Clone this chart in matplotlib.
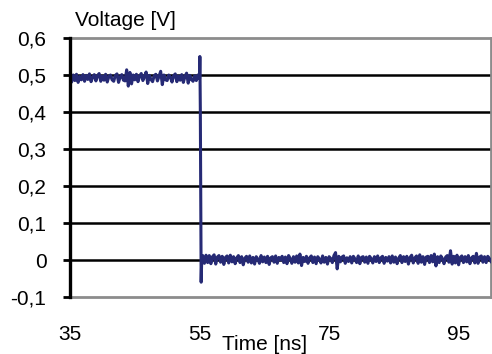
import numpy as np
import matplotlib
matplotlib.use("Agg")
import matplotlib.pyplot as plt

plt.rcParams['font.family'] = ['Liberation Sans', 'DejaVu Sans']

# Voltage before the edge (mV), 35 .. 55 ns
v_high_mv = [493, 481, 500, 485, 502, 480, 496, 487, 501, 483,
             499, 488, 503, 482, 494, 501, 484, 498, 504, 483,
             497, 486, 502, 481, 496, 500, 487, 483, 499, 503,
             480, 495, 501, 486, 484, 514, 470, 507, 476, 500,
             487, 502, 482, 497, 504, 485, 496, 508, 477, 499,
             488, 482, 498, 502, 484, 497, 510, 474, 500, 487,
             485, 500, 494, 481, 498, 503, 482, 497, 486, 501,
             480, 496, 505, 478, 499, 488, 483, 498, 485, 500, 490]
# Edge region
t_edge = [55.05, 55.12, 55.25, 55.35]
v_edge = [0.55, 0.41, -0.06, 0.01]
# Voltage after the edge (mV), 55.5 .. 100 ns
v_low_mv = [12, -9, 13, -7, 12, -10, 9, 14, -11, 8,
            12, -6, 10, -12, 7, 11, -8, 13, -5, 9,
            -10, 6, 12, -7, 9, -13, 5, 10, -6, 11,
            -8, 7, -11, 9, 3, -9, 12, -5, 8, -7,
            10, -12, 6, 9, -6, 11, -9, 7, 0, 10,
            -7, 8, -10, 12, 4, -9, 9, -6, 11, -8,
            16, -15, 7, -4, 10, -9, 6, 11, -7, 8,
            -10, 9, 3, -8, 11, -6, 7, -11, 9, 4,
            -7, 12, 20, -24, 10, -5, 8, 11, -9, 6,
            -4, 9, -8, 10, 3, -7, 11, -10, 7, 9,
            -6, 8, -9, 10, 4, -8, 9, -4, 11, -7,
            6, 10, -9, 7, -3, 9, -8, 11, -6, 8,
            -10, 5, 12, -7, 9, -4, 10, -11, 7, 13,
            -8, 6, 11, -9, 14, -6, 9, -12, 8, 10,
            -7, 12, -5, 16, -16, 9, -7, 11, 4, -10,
            8, 12, -6, 25, -11, 10, -8, 13, -13, 7,
            11, -7, 9, -5, 12, -10, 6, 10, -8, 18,
            -9, 8, 11, -6, 9, -7, 10, 4, -4]

x_ticks = [35, 55, 75, 95]
y_ticks = [-0.1, 0, 0.1, 0.2, 0.3, 0.4, 0.5, 0.6]
y_labels = ['-0,1', '0', '0,1', '0,2', '0,3', '0,4', '0,5', '0,6']

t_high = np.linspace(35, 55, len(v_high_mv))
t_low = np.linspace(55.5, 100, len(v_low_mv))
t = np.concatenate([t_high, t_edge, t_low])
v = np.concatenate([np.array(v_high_mv) / 1000.0, v_edge, np.array(v_low_mv) / 1000.0])

fig = plt.figure(figsize=(4.92, 3.54), dpi=100)
ax = fig.add_axes([70/492, 1-297/354, 421/492, 259/354])

for yv in [0, 0.1, 0.2, 0.3, 0.4, 0.5]:
    ax.axhline(yv, color='black', lw=1.8, zorder=1)

ax.plot(t, v, color='#262a75', lw=2.2, zorder=3)

ax.set_xlim(35, 100)
ax.set_ylim(-0.1, 0.6)
ax.set_yticks(y_ticks)
ax.set_yticklabels(y_labels)
ax.set_xticks(x_ticks)
ax.set_xticklabels([str(x) for x in x_ticks])

ax.tick_params(axis='y', direction='out', length=5, width=2, pad=12, labelsize=15)
ax.tick_params(axis='x', length=0, pad=20, labelsize=15)

for s in ['top', 'right', 'bottom']:
    ax.spines[s].set_color('#8c8c8c')
    ax.spines[s].set_linewidth(2.0)
ax.spines['left'].set_color('black')
ax.spines['left'].set_linewidth(2.4)
ax.spines['left'].set_zorder(5)

fig.text(75/492, 1-21/354, 'Voltage [V]', fontsize=15, va='center', ha='left')
fig.text(222/492, 1-345/354, 'Time [ns]', fontsize=15, va='center', ha='left')

fig.savefig('out.png', dpi=100)
